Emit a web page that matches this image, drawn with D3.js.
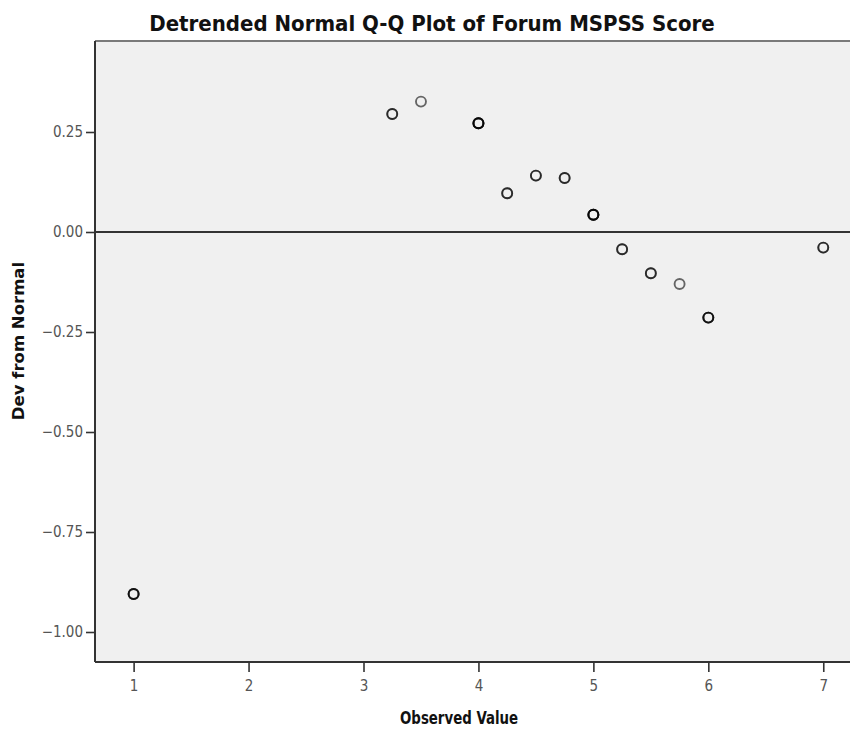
<!DOCTYPE html>
<html>
<head>
<meta charset="utf-8">
<script src="https://cdn.jsdelivr.net/npm/d3@7"></script>
<style>
  html, body { margin: 0; padding: 0; background: #fff; }
  svg { display: block; }
</style>
</head>
<body>
<svg id="chart" width="850" height="731"></svg>
<script>
// Detrended normal Q-Q plot: observed score vs. deviation from the normal line
const observed   = [1, 3.25, 3.5, 4, 4.25, 4.5, 4.75, 5, 5.25, 5.5, 5.75, 6, 7];
const deviation  = [-0.905, 0.295, 0.326, 0.272, 0.097, 0.141, 0.135, 0.043, -0.043, -0.103, -0.130, -0.214, -0.039];
// number of cases sharing each observed value (overlapping markers darken)
const caseCount  = [3, 2, 1, 4, 2, 2, 2, 4, 2, 2, 1, 3, 2];
const xTicks = [1, 2, 3, 4, 5, 6, 7];
const yTicks = [0.25, 0, -0.25, -0.5, -0.75, -1.0];

const svg = d3.select("#chart");
const plot = { left: 95, top: 41, right: 852, bottom: 662 };

const x = d3.scaleLinear().domain([0.664, 7.25]).range([plot.left, plot.right]);
const y = d3.scaleLinear().domain([-1.075, 0.4775]).range([plot.bottom, plot.top]);

// plot background
svg.append("rect")
  .attr("x", plot.left).attr("y", plot.top)
  .attr("width", plot.right - plot.left).attr("height", plot.bottom - plot.top)
  .attr("fill", "#f0f0f0");

// frame
svg.append("line")
  .attr("x1", plot.left).attr("x2", plot.right)
  .attr("y1", plot.top).attr("y2", plot.top)
  .attr("stroke", "#7a7a7a").attr("stroke-width", 2);

// axes
const xAxis = d3.axisBottom(x).tickValues(xTicks).tickFormat(d3.format("d"))
  .tickSizeInner(10).tickSizeOuter(0).tickPadding(8);
const yAxis = d3.axisLeft(y).tickValues(yTicks).tickFormat(d3.format(".2f"))
  .tickSizeInner(9).tickSizeOuter(0).tickPadding(3);

const gx = svg.append("g").attr("transform", `translate(0,${plot.bottom})`).call(xAxis);
const gy = svg.append("g").attr("transform", `translate(${plot.left},0)`).call(yAxis);

[gx, gy].forEach(g => {
  g.select(".domain").attr("stroke", "#333").attr("stroke-width", 2);
  g.selectAll(".tick line").attr("stroke", "#333").attr("stroke-width", 1.6);
  g.selectAll(".tick text")
    .attr("fill", "#555")
    .style("font-family", "'DejaVu Sans Condensed', 'DejaVu Sans', sans-serif")
    .style("font-size", "15px");
});
gy.selectAll(".tick text").text(d => d3.format(".2f")(d).replace("-", "\u2212"));
gx.select(".domain").attr("d", `M${plot.left},0H${plot.right}`);
gy.select(".domain").attr("d", `M0,${plot.top}V${plot.bottom}`);

// zero reference line
svg.append("line")
  .attr("x1", plot.left).attr("x2", plot.right)
  .attr("y1", y(0)).attr("y2", y(0))
  .attr("stroke", "#333").attr("stroke-width", 2);

// markers: one hollow circle per case, stacked at the same spot
const points = [];
observed.forEach((v, i) => {
  for (let k = 0; k < caseCount[i]; k++) points.push({ x: v, y: deviation[i] });
});
svg.append("g").selectAll("circle")
  .data(points)
  .join("circle")
  .attr("cx", d => x(d.x))
  .attr("cy", d => y(d.y))
  .attr("r", 5)
  .attr("fill", "none")
  .attr("stroke", "#000")
  .attr("stroke-opacity", 0.58)
  .attr("stroke-width", 1.9);

// title and axis titles
svg.append("text")
  .attr("x", 432).attr("y", 31)
  .attr("text-anchor", "middle")
  .style("font-family", "'DejaVu Sans Condensed', 'DejaVu Sans', sans-serif")
  .style("font-weight", "bold")
  .style("font-size", "22px")
  .attr("fill", "#111")
  .text("Detrended Normal Q-Q Plot of Forum MSPSS Score");

svg.append("text")
  .attr("x", 459).attr("y", 724)
  .attr("text-anchor", "middle")
  .attr("textLength", 118)
  .attr("lengthAdjust", "spacingAndGlyphs")
  .style("font-family", "'DejaVu Sans Condensed', 'DejaVu Sans', sans-serif")
  .style("font-weight", "bold")
  .style("font-size", "18px")
  .attr("fill", "#111")
  .text("Observed Value");

svg.append("text")
  .attr("transform", "translate(24,341) rotate(-90)")
  .attr("text-anchor", "middle")
  .style("font-family", "'DejaVu Sans', sans-serif")
  .style("font-weight", "bold")
  .style("font-size", "16.5px")
  .attr("fill", "#111")
  .text("Dev from Normal");
</script>
</body>
</html>
